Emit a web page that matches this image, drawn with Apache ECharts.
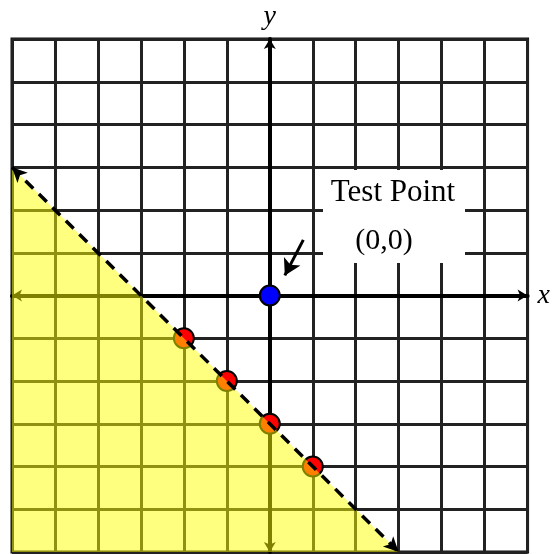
<!DOCTYPE html>
<html>
<head>
<meta charset="utf-8">
<script src="https://cdn.jsdelivr.net/npm/echarts@6/dist/echarts.min.js"></script>
<style>
html, body { margin: 0; padding: 0; background: #fff; }
#main { width: 553px; height: 554px; }
</style>
</head>
<body>
<div id="main"></div>
<script>
// boundary line y = -x - 3 (dashed, not included)
var lineX = [-6, 3];
var lineY = [3, -6];
// points picked on the line
var redX = [-2, -1, 0, 1];
var redY = [-1, -2, -3, -4];
// test point
var testPoint = [0, 0];
// shaded half-plane (corners)
var shadeX = [-6, 3, -6];
var shadeY = [3, -6, -6];
// note arrow (from label to test point)
var noteFrom = [0.78, 1.3];
var noteTo = [0.35, 0.47];

var serif = 'Liberation Serif, Times New Roman, serif';
var chart = echarts.init(document.getElementById('main'));

var redData = [];
for (var i = 0; i < redX.length; i++) {
    redData.push([redX[i], redY[i]]);
}
var shadeData = [];
for (var i = 0; i < shadeX.length; i++) {
    shadeData.push([shadeX[i], shadeY[i]]);
}

var option = {
    animation: false,
    grid: {
        left: 12, right: 25, top: 39, bottom: 2,
        show: true, borderColor: '#111', borderWidth: 3, backgroundColor: '#fff'
    },
    xAxis: {
        type: 'value', min: -6, max: 6, interval: 1,
        name: 'x', nameLocation: 'end', nameGap: 10,
        nameTextStyle: { fontFamily: serif, fontStyle: 'italic', fontSize: 28, color: '#000' },
        axisLine: { onZero: true, lineStyle: { color: '#000', width: 4 }, symbol: ['arrow', 'arrow'], symbolSize: [9, 10] },
        axisTick: { show: false },
        axisLabel: { show: false },
        splitLine: { show: true, lineStyle: { color: '#222', width: 3 } }
    },
    yAxis: {
        type: 'value', min: -6, max: 6, interval: 1,
        name: 'y', nameLocation: 'end', nameGap: 8,
        nameTextStyle: { fontFamily: serif, fontStyle: 'italic', fontSize: 28, color: '#000' },
        axisLine: { onZero: true, lineStyle: { color: '#000', width: 4 }, symbol: ['arrow', 'arrow'], symbolSize: [9, 10] },
        axisTick: { show: false },
        axisLabel: { show: false },
        splitLine: { show: true, lineStyle: { color: '#222', width: 3 } }
    },
    series: [
        {
            // points on the boundary
            type: 'scatter', z: 2,
            data: redData,
            symbolSize: 20,
            itemStyle: { color: '#ff0000', borderColor: '#000', borderWidth: 2, opacity: 1 }
        },
        {
            // shaded solution region
            type: 'custom', z: 3,
            renderItem: function (params, api) {
                var pts = [];
                for (var k = 0; k < shadeData.length; k++) {
                    pts.push(api.coord(shadeData[k]));
                }
                return {
                    type: 'polygon',
                    shape: { points: pts },
                    style: { fill: 'rgba(255,255,0,0.5)', stroke: null }
                };
            },
            data: [0]
        },
        {
            // dashed boundary line + note arrow
            type: 'line', z: 4,
            data: [],
            markLine: {
                silent: true,
                label: { show: false },
                data: [
                    [
                        { coord: [lineX[0], lineY[0]], symbol: 'arrow', symbolSize: [11, 15] },
                        { coord: [lineX[1], lineY[1]], symbol: 'arrow', symbolSize: [11, 15] }
                    ],
                    [
                        { coord: noteFrom, symbol: 'none', lineStyle: { type: 'solid', width: 3 } },
                        { coord: noteTo, symbol: 'arrow', symbolSize: [14, 16], lineStyle: { type: 'solid', width: 3 } }
                    ]
                ],
                lineStyle: { color: '#000', width: 3.5, type: [11, 8] }
            }
        },
        {
            // test point
            type: 'scatter', z: 5,
            data: [testPoint],
            symbolSize: 20,
            itemStyle: { color: '#0000ff', borderColor: '#000', borderWidth: 2, opacity: 1 }
        }
    ],
    graphic: [
        {
            type: 'rect', z: 100,
            shape: { x: 323, y: 170, width: 142, height: 93 },
            style: { fill: '#fff' }
        },
        {
            type: 'text', z: 101,
            x: 393, y: 193,
            style: { text: 'Test Point', fontFamily: serif, fontSize: 31, fill: '#000', align: 'center', verticalAlign: 'middle' }
        },
        {
            type: 'text', z: 101,
            x: 384, y: 241,
            style: { text: '(0,0)', fontFamily: serif, fontSize: 30, fill: '#000', align: 'center', verticalAlign: 'middle' }
        }
    ]
};

chart.setOption(option);
</script>
</body>
</html>
